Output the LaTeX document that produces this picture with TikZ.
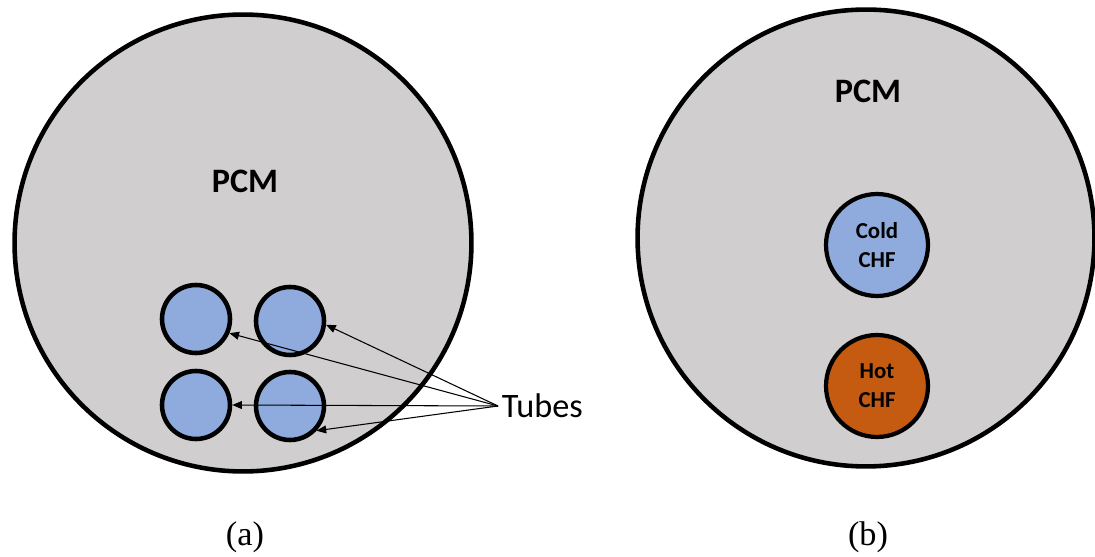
\documentclass[tikz,border=0pt]{standalone}
\usepackage{fontspec}
\setmainfont{Carlito}
\newfontfamily\serifcap{Liberation Serif}
\usetikzlibrary{arrows.meta}
\definecolor{pcmgray}{HTML}{D0CECE}
\definecolor{tubeblue}{HTML}{8FAADC}
\definecolor{hotorange}{HTML}{C55A11}
\begin{document}
\begin{tikzpicture}[x=0.02cm, y=-0.02cm,
  pcm/.style={circle, draw=black, line width=2.6pt, fill=pcmgray, minimum size=9.14cm, inner sep=0pt},
  tube/.style={circle, draw=black, line width=2.6pt, fill=tubeblue, minimum size=1.36cm, inner sep=0pt},
  chf/.style={circle, draw=black, line width=2.4pt, minimum size=2.04cm, inner sep=0pt, align=center, font=\bfseries\fontsize{13}{16.4}\selectfont},
  label/.style={font=\bfseries\fontsize{19.5}{23}\selectfont},
  pointer/.style={-{Triangle[length=5.5pt,width=4.5pt]}, line width=0.6pt},
  caption/.style={font=\serifcap\fontsize{19.5}{23}\selectfont}]
\useasboundingbox (0,0) rectangle (1095,557);

% (a) four tubes
\node [pcm] (pcmA) at (243,243) {};
\node [label] (pcmAtxt) at (245,181) {PCM};
\node [tube] (t1) at (196,319) {};
\node [tube] (t2) at (290,321) {};
\node [tube] (t3) at (196,405) {};
\node [tube] (t4) at (290,406) {};
\node [anchor=west, inner sep=2pt, font=\fontsize{19.5}{23}\selectfont] (tubes) at (498,406) {Tubes};
\draw [pointer] (tubes.west) -- (t1.-23);
\draw [pointer] (tubes.west) -- (t2.-6);
\draw [pointer] (tubes.west) -- (t3.0);
\draw [pointer] (tubes.west) -- (t4.-43);
\node [caption] (capA) at (245,537) {(a)};

% (b) cold and hot CHF
\node [pcm] (pcmB) at (866,238) {};
\node [label] (pcmBtxt) at (868,91) {PCM};
\node [chf, fill=tubeblue] (cold) at (877,245) {Cold\\CHF};
\node [chf, fill=hotorange] (hot) at (877,386) {Hot\\CHF};
\node [caption] (capB) at (868,537) {(b)};
\end{tikzpicture}
\end{document}
